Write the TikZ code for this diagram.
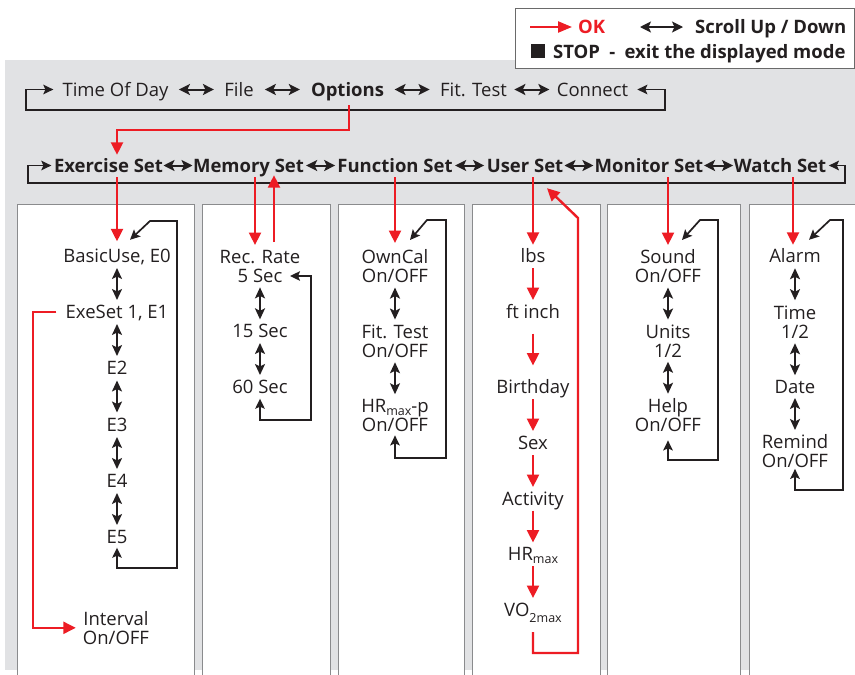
\documentclass[tikz,border=0pt]{standalone}
\usepackage{fontspec}
\setmainfont{Open Sans}
\usetikzlibrary{arrows.meta,calc}
\definecolor{okred}{HTML}{ED1C24}
\definecolor{bggray}{HTML}{E1E2E4}
\definecolor{boxgray}{HTML}{8A8B8D}
\definecolor{legline}{HTML}{6A6A6A}
\definecolor{ink}{HTML}{231F20}
\newcommand\fs{\fontsize{18.5}{18.5}\selectfont}
\newcommand\vlink[3]{\draw[#1] ($(#2)!.5!(#3)+(0,-16)$) -- ($(#2)!.5!(#3)+(0,16)$);}
\newcommand\hlinkA[3]{\draw[#1] ($(#2)!.5!(#3)+(-17.5,0)$) -- ($(#2)!.5!(#3)+(17.5,0)$);}
\newcommand\hlinkB[3]{\draw[#1] ($(#2)!.5!(#3)+(-14.5,0)$) -- ($(#2)!.5!(#3)+(14.5,0)$);}
\newcommand\subtx[2]{\raisebox{#1}{\fontsize{12.5}{12}\selectfont #2}}
\begin{document}
\begin{tikzpicture}[x=1pt,y=-1pt,
  one/.style={font=\fs, text=ink, inner sep=0pt, text height=13pt, text depth=0pt},
  oneb/.style={one, font=\fs\bfseries},
  two/.style={font=\fs, text=ink, inner sep=0pt, align=center, anchor=base},
  dbl/.style={draw=ink, line width=2pt, {Stealth[length=11pt,width=11pt,inset=2.5pt]}-{Stealth[length=11pt,width=11pt,inset=2.5pt]}},
  vdbl/.style={draw=ink, line width=2pt, {Stealth[length=11pt,width=10pt,inset=2.5pt]}-{Stealth[length=11pt,width=10pt,inset=2.5pt]}},
  loopar/.style={draw=ink, line width=1.7pt, {Stealth[length=10pt,width=9.5pt,inset=2pt]}-{Stealth[length=10pt,width=9.5pt,inset=2pt]}},
  redar/.style={draw=okred, line width=2.4pt, -{Triangle[length=12.5pt,width=12pt]}},
  colbox/.style={draw=boxgray, fill=white, line width=1pt}]
\useasboundingbox (0,0) rectangle (855,675);
\fill[white] (0,0) rectangle (855,675);
\fill[bggray] (5,60) rectangle (855,670);
% legend
\draw[draw=legline, fill=white, line width=1pt] (515,8) rectangle (854,68);
\coordinate (oks) at (530,27);
\node[oneb, text=okred, anchor=west] (ok) at (578,27) {OK};
\draw[draw=okred, line width=2.3pt, -{Triangle[length=14pt,width=11pt]}] (oks) -- ($(ok.west)+(-6,0)$);
\coordinate (scs) at (640,27);
\node[oneb, anchor=west] (scroll) at (695,27) {Scroll Up / Down};
\draw[dbl, line width=1.4pt] (scs) -- ($(scroll.west)+(-12,0)$);
\node[fill=ink, minimum size=14pt, inner sep=0pt] (sq) at (538,51) {};
\node[oneb, anchor=west] (stop) at (553,51.5) {STOP\enspace-\enspace exit the displayed mode};
% column boxes
\draw[colbox] (17,204) rectangle (194,690);
\draw[colbox] (202,204) rectangle (330,690);
\draw[colbox] (338,204) rectangle (464,690);
\draw[colbox] (472,204) rectangle (600,690);
\draw[colbox] (607,204) rectangle (740,690);
\draw[colbox] (749,204) rectangle (870,690);
% row 1
\node[one] (tod) at (115.5,89.5) {Time Of Day};
\node[one] (file) at (239,89.5) {File};
\node[oneb] (opt) at (347.5,89.5) {Options};
\node[one] (fit) at (473.5,89.5) {Fit. Test};
\node[one] (conn) at (592.5,89.5) {Connect};
\hlinkA{dbl}{tod.east}{file.west}
\hlinkA{dbl}{file.east}{opt.west}
\hlinkA{dbl}{opt.east}{fit.west}
\hlinkA{dbl}{fit.east}{conn.west}
\draw[loopar] ($(tod.west)+(-9,0)$) -| (26,110) -| (665,89.5) -- ($(conn.east)+(9,0)$);
% row 2
\node[oneb] (ex) at (108.5,165.5) {Exercise Set};
\node[oneb] (mem) at (248.5,165.5) {Memory Set};
\node[oneb] (fun) at (395,165.5) {Function Set};
\node[oneb] (usr) at (525,165.5) {User Set};
\node[oneb] (mon) at (649,165.5) {Monitor Set};
\node[oneb] (wat) at (780,165.5) {Watch Set};
\hlinkB{dbl}{ex.east}{mem.west}
\hlinkB{dbl}{mem.east}{fun.west}
\hlinkB{dbl}{fun.east}{usr.west}
\hlinkB{dbl}{usr.east}{mon.west}
\hlinkB{dbl}{mon.east}{wat.west}
\draw[loopar] ($(ex.west)+(-2.5,0)$) -| (28,183) -| (845,165.5) -- ($(wat.east)+(2.5,0)$);
% column 1
\node[one] (b0) at (117,256) {BasicUse, E0};
\node[one] (b1) at (117,312) {ExeSet 1, E1};
\node[one] (e2) at (117,368) {E2};
\node[one] (e3) at (117,425) {E3};
\node[one] (e4) at (117,481) {E4};
\node[one] (e5) at (117,537) {E5};
\node[two] (intv) at (116,644) {Interval\\On/OFF};
\vlink{vdbl}{b0.south}{b1.north}
\vlink{vdbl}{b1.south}{e2.north}
\vlink{vdbl}{e2.south}{e3.north}
\vlink{vdbl}{e3.south}{e4.north}
\vlink{vdbl}{e4.south}{e5.north}
\draw[loopar] ($(e5.south)+(0,4)$) |- (177,568) |- (150,221) -- ($(b0.north)+(13,-9.5)$);
\coordinate (rc) at (33,0);
\draw[redar] ($(b1.west)+(-9,0)$) -| (rc |- intv.west) -- ($(intv.west)+(-7,0)$);
% column 2
\node[two] (rr) at (260,282) {Rec. Rate\\5 Sec};
\node[one] (s15) at (260,331) {15 Sec};
\node[one] (s60) at (260,387) {60 Sec};
\vlink{vdbl}{rr.south}{s15.north}
\vlink{vdbl}{s15.south}{s60.north}
\draw[loopar] ($(s60.south)+(0,5)$) |- (311,420) |- ($(rr.base)+(30,-6)$);
% column 3
\node[two] (own) at (395,282) {OwnCal\\On/OFF};
\node[two] (fitt) at (395,357) {Fit. Test\\On/OFF};
\node[two] (hrp) at (395,431) {HR\subtx{-3pt}{max}-p\\On/OFF};
\vlink{vdbl}{own.south}{fitt.north}
\vlink{vdbl}{fitt.south}{hrp.north}
\draw[loopar] ($(hrp.south)+(0,4)$) |- (446,458) |- (427,220) -- ($(own.base)+(15,-42)$);
% column 4
\node[one] (lbs) at (533,256) {lbs};
\node[one] (ft) at (533,312) {ft inch};
\node[one] (bd) at (533,387) {Birthday};
\node[one] (sex) at (533,443) {Sex};
\node[one] (act) at (533,499) {Activity};
\node[one] (hr) at (533,554) {HR\subtx{-3pt}{max}};
\node[one] (vo) at (533,610) {VO\subtx{-6pt}{2max}};
\vlink{redar}{lbs.south}{ft.north}
\vlink{redar}{ft.south}{bd.north}
\vlink{redar}{bd.south}{sex.north}
\vlink{redar}{sex.south}{act.north}
\vlink{redar}{act.south}{hr.north}
\vlink{redar}{hr.south}{vo.north}
\draw[redar] ($(vo.south)+(0,15.5)$) |- (578,653) -- (578,218) -- ($(usr.south)+(22,16)$);
% column 5
\node[two] (snd) at (668,282) {Sound\\On/OFF};
\node[two] (units) at (668,357) {Units\\1/2};
\node[two] (help) at (668,431) {Help\\On/OFF};
\vlink{vdbl}{snd.south}{units.north}
\vlink{vdbl}{units.south}{help.north}
\draw[loopar] ($(help.south)+(0,9)$) |- (718,460) |- (700,220) -- ($(snd.base)+(14,-42)$);
% column 6
\node[one] (alarm) at (795,256) {Alarm};
\node[two] (time) at (795,338) {Time\\1/2};
\node[one] (date) at (795,387) {Date};
\node[two] (rem) at (795,467) {Remind\\On/OFF};
\vlink{vdbl}{alarm.south}{time.north}
\vlink{vdbl}{time.south}{date.north}
\vlink{vdbl}{date.south}{rem.north}
\draw[loopar] ($(rem.south)+(0,1.5)$) |- (843,490) |- (830,220) -- ($(alarm.north)+(14,-9.5)$);
% red OK paths
\draw[redar] ($(opt.south)+(1.5,9)$) |- ($(b0 |- ex.north)+(0,-29)$) -- ($(b0 |- ex.north)+(0,-4)$);
\draw[redar] ($(b0 |- ex.south)+(0,5)$) -- ($(b0.north)+(0,-8)$);
\draw[redar] ($(rr |- mem.south)+(-5,5)$) -- ($(rr.base)+(-5,-37)$);
\draw[redar] ($(rr.base)+(14,-40)$) -- ($(rr |- mem.south)+(14,3)$);
\draw[redar] ($(own |- fun.south)+(0,5)$) -- ($(own.base)+(0,-39)$);
\draw[redar] ($(lbs |- usr.south)+(0,5)$) -- ($(lbs.north)+(0,-4.5)$);
\draw[redar] ($(snd |- mon.south)+(0,5)$) -- ($(snd.base)+(0,-37)$);
\draw[redar] ($(alarm |- wat.south)+(-2,5)$) -- ($(alarm.north)+(-2,-4.5)$);
\end{tikzpicture}
\end{document}
